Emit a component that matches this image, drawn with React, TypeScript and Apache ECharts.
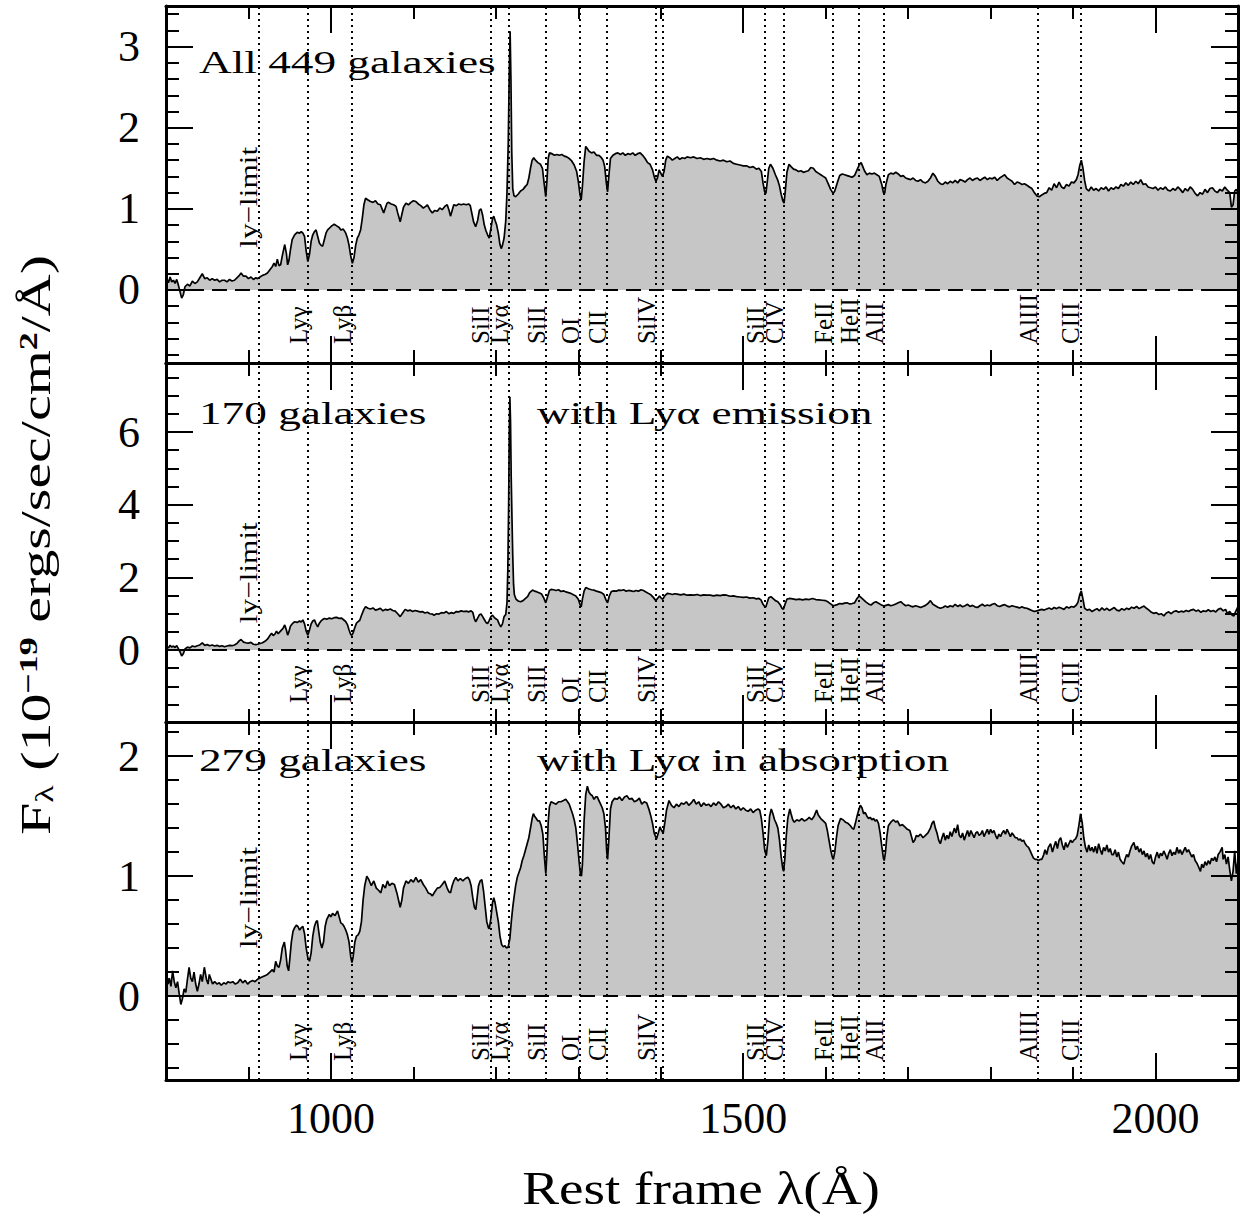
import React, { useEffect, useRef } from 'react';
import * as echarts from 'echarts';

// ---------- axes ----------
const X_MIN = 800;
const X_MAX = 2100;
const xMajorTicks = [1000, 1500, 2000];
const xMinorTicks = [900, 1100, 1200, 1300, 1400, 1600, 1700, 1800, 1900];

const yMins = [-0.9, -1.98, -0.7];
const yMaxs = [3.5, 7.9, 2.285];
const yMajorTop = [0, 1, 2, 3];
const yMinorTop = [-0.8, -0.6, -0.4, -0.2, 0.2, 0.4, 0.6, 0.8, 1.2, 1.4, 1.6, 1.8, 2.2, 2.4, 2.6, 2.8, 3.2, 3.4];
const yMajorMid = [0, 2, 4, 6];
const yMinorMid = [-1.5, -1, -0.5, 0.5, 1, 1.5, 2.5, 3, 3.5, 4.5, 5, 5.5, 6.5, 7, 7.5];
const yMajorBot = [0, 1, 2];
const yMinorBot = [-0.6, -0.4, -0.2, 0.2, 0.4, 0.6, 0.8, 1.2, 1.4, 1.6, 1.8, 2.2];

// ---------- spectral lines ----------
const lineWavelengths = [912, 972.5, 1025.7, 1193.3, 1215.7, 1260.4, 1302.2, 1334.5, 1393.8, 1402.8, 1526.7, 1549, 1608.5, 1640.4, 1670.8, 1857, 1909];
const ionLabels = ['Lyγ', 'Lyβ', 'SiII', 'Lyα', 'SiII', 'OI', 'CII', 'SiIV', 'SiII', 'CIV', 'FeII', 'HeII', 'AlII', 'AlIII', 'CIII'];
const ionLabelWavelengths = [972.5, 1025.7, 1193.3, 1215.7, 1260.4, 1302.2, 1334.5, 1393.8, 1526.7, 1549, 1608.5, 1640.4, 1670.8, 1857, 1909];
const lyLimitWavelength = 912;
const lyLimitLabel = 'ly−limit';
const lyLimitLabelLevels = [0.52, 0.74, 0.40];

// ---------- panel texts ----------
const panelLeftTitles = ['All 449 galaxies', '170 galaxies', '279 galaxies'];
const panelRightTitles = ['', 'with Lyα emission', 'with Lyα in absorption'];

// ---------- spectra [wavelength Å, flux] ----------
const spectrumAll: [number, number][] = [[801,0.14],[803,0.09],[805,0.16],[807,0.10],[809,0.12],[811,0.08],[813,0.13],[815,0.06],[817,-0.02],[819,-0.10],[821,-0.06],[823,0.04],[826,0.07],[829,0.05],[832,0.11],[835,0.08],[838,0.10],[841,0.15],[844,0.20],[847,0.14],[850,0.15],[853,0.12],[856,0.14],[859,0.12],[862,0.13],[865,0.10],[868,0.12],[871,0.12],[874,0.10],[877,0.13],[880,0.11],[883,0.12],[886,0.15],[889,0.18],[891,0.21],[894,0.17],[897,0.17],[900,0.14],[903,0.16],[906,0.13],[909,0.15],[911,0.14],[914,0.16],[917,0.18],[920,0.19],[923,0.21],[926,0.25],[929,0.29],[931,0.33],[933,0.29],[935,0.38],[937,0.30],[939,0.31],[941,0.42],[944,0.56],[946,0.45],[947.5,0.31],[949,0.36],[951,0.50],[953,0.62],[956,0.68],[959,0.71],[962,0.70],[964,0.72],[966,0.70],[968,0.66],[970,0.48],[972,0.35],[974,0.44],[976,0.60],[978,0.68],[980,0.72],[982,0.74],[984,0.66],[986,0.58],[988,0.55],[990,0.54],[992,0.62],[994,0.70],[996,0.74],[999,0.77],[1001,0.79],[1004,0.81],[1007,0.79],[1010,0.77],[1012,0.74],[1015,0.75],[1018,0.70],[1020,0.64],[1022,0.55],[1024,0.42],[1026,0.33],[1028,0.40],[1030,0.55],[1032,0.64],[1034,0.68],[1036,0.74],[1038,0.88],[1040,1.05],[1042,1.13],[1045,1.11],[1048,1.09],[1051,1.08],[1054,1.10],[1057,1.06],[1060,1.05],[1062,1.00],[1064,0.95],[1066,1.01],[1068,1.07],[1070,1.08],[1073,1.06],[1076,1.05],[1079,1.03],[1081,0.95],[1084,0.84],[1086,0.93],[1088,1.02],[1091,1.07],[1094,1.05],[1097,1.08],[1100,1.10],[1103,1.09],[1106,1.06],[1109,1.04],[1112,1.01],[1115,1.03],[1117,1.05],[1120,0.99],[1123,0.95],[1126,0.98],[1129,0.97],[1132,1.01],[1135,0.99],[1138,1.03],[1141,1.05],[1143,0.99],[1145,0.91],[1147,0.98],[1149,1.05],[1152,1.04],[1155,1.06],[1158,1.05],[1161,1.06],[1164,1.05],[1167,1.06],[1169,1.04],[1171,0.94],[1173,0.84],[1175.5,0.78],[1178,0.86],[1180,0.98],[1182,1.00],[1184,0.92],[1186,0.80],[1188,0.73],[1190,0.68],[1192,0.64],[1194,0.76],[1196,0.88],[1197.5,0.91],[1199,0.86],[1201,0.80],[1203,0.70],[1205,0.56],[1206.5,0.51],[1208,0.55],[1210,0.64],[1212,0.85],[1213.5,1.20],[1215,1.80],[1216.3,2.70],[1217.3,3.19],[1218.3,2.60],[1219.3,1.70],[1220.5,1.25],[1222,1.16],[1224,1.15],[1227,1.18],[1230,1.22],[1233,1.24],[1236,1.28],[1238,1.30],[1240,1.38],[1242,1.50],[1244,1.60],[1246,1.63],[1248,1.60],[1251,1.57],[1254,1.55],[1256.5,1.50],[1258.5,1.32],[1260.5,1.15],[1262,1.35],[1263.5,1.62],[1265,1.69],[1268,1.68],[1271,1.66],[1274,1.67],[1277,1.66],[1280,1.67],[1283,1.65],[1286,1.64],[1289,1.62],[1292,1.59],[1295,1.54],[1298,1.46],[1300,1.34],[1302,1.18],[1303.5,1.11],[1305,1.28],[1307,1.58],[1309,1.77],[1311,1.74],[1313,1.71],[1316,1.69],[1319,1.70],[1322,1.66],[1325,1.66],[1328,1.63],[1330,1.60],[1332,1.52],[1334,1.32],[1335.5,1.21],[1337,1.40],[1339,1.62],[1342,1.66],[1345,1.68],[1348,1.69],[1351,1.67],[1354,1.69],[1357,1.66],[1360,1.68],[1363,1.67],[1366,1.69],[1369,1.66],[1372,1.68],[1375,1.69],[1378,1.66],[1381,1.62],[1384,1.57],[1387,1.55],[1390,1.48],[1392,1.40],[1394,1.34],[1396,1.38],[1398,1.48],[1400,1.44],[1402,1.40],[1404,1.46],[1406,1.60],[1408,1.65],[1411,1.63],[1414,1.60],[1417,1.62],[1420,1.64],[1423,1.61],[1426,1.63],[1429,1.62],[1432,1.64],[1436,1.63],[1440,1.64],[1444,1.62],[1448,1.63],[1452,1.61],[1456,1.62],[1460,1.61],[1464,1.62],[1468,1.60],[1472,1.59],[1476,1.60],[1480,1.58],[1484,1.59],[1488,1.56],[1492,1.55],[1496,1.54],[1500,1.53],[1504,1.53],[1508,1.51],[1512,1.52],[1516,1.49],[1519,1.50],[1522,1.46],[1524,1.32],[1526,1.21],[1527.5,1.19],[1529,1.32],[1531,1.50],[1533,1.55],[1536,1.50],[1539,1.42],[1542,1.35],[1544,1.28],[1546,1.18],[1548,1.10],[1549.5,1.07],[1551,1.22],[1553,1.45],[1555.5,1.55],[1558,1.52],[1561,1.49],[1564,1.48],[1567,1.46],[1570,1.47],[1573,1.45],[1576,1.46],[1579,1.47],[1582,1.51],[1585,1.50],[1588,1.46],[1591,1.44],[1594,1.42],[1597,1.40],[1600,1.38],[1603,1.31],[1606,1.24],[1609,1.19],[1611,1.22],[1614,1.32],[1617,1.41],[1620,1.43],[1623,1.42],[1626,1.41],[1629,1.40],[1632,1.39],[1635,1.41],[1638,1.48],[1641,1.55],[1643,1.57],[1645,1.52],[1647,1.47],[1650,1.42],[1653,1.44],[1656,1.43],[1659,1.44],[1662,1.42],[1665,1.40],[1668,1.30],[1670,1.20],[1671.5,1.19],[1673,1.30],[1676,1.42],[1679,1.44],[1682,1.43],[1685,1.45],[1688,1.43],[1691,1.40],[1694,1.41],[1697,1.38],[1700,1.37],[1703,1.36],[1706,1.38],[1709,1.35],[1712,1.34],[1715,1.36],[1718,1.33],[1721,1.32],[1724,1.34],[1727,1.38],[1730,1.44],[1733,1.40],[1736,1.34],[1739,1.31],[1742,1.30],[1745,1.33],[1748,1.31],[1751,1.34],[1754,1.32],[1757,1.35],[1760,1.32],[1763,1.36],[1766,1.35],[1769,1.33],[1772,1.36],[1775,1.38],[1778,1.35],[1781,1.37],[1784,1.38],[1787,1.35],[1790,1.37],[1793,1.39],[1796,1.36],[1799,1.38],[1802,1.37],[1805,1.39],[1808,1.35],[1811,1.38],[1814,1.40],[1817,1.42],[1820,1.38],[1823,1.36],[1826,1.34],[1829,1.30],[1832,1.33],[1835,1.32],[1838,1.30],[1841,1.31],[1844,1.29],[1847,1.27],[1850,1.25],[1853,1.20],[1856,1.16],[1859,1.15],[1862,1.17],[1865,1.19],[1868,1.20],[1871,1.26],[1874,1.23],[1877,1.31],[1880,1.26],[1883,1.33],[1886,1.27],[1889,1.25],[1892,1.30],[1895,1.28],[1898,1.33],[1901,1.32],[1904,1.36],[1906,1.42],[1908,1.53],[1910,1.60],[1912,1.50],[1914,1.35],[1916,1.25],[1919,1.22],[1922,1.27],[1925,1.23],[1928,1.25],[1931,1.22],[1934,1.26],[1937,1.24],[1940,1.27],[1943,1.22],[1946,1.26],[1949,1.24],[1952,1.27],[1955,1.25],[1958,1.30],[1961,1.28],[1964,1.32],[1967,1.29],[1970,1.33],[1973,1.30],[1976,1.34],[1979,1.31],[1982,1.36],[1985,1.30],[1988,1.31],[1991,1.27],[1994,1.26],[1997,1.25],[2000,1.27],[2003,1.23],[2006,1.26],[2009,1.24],[2012,1.27],[2015,1.23],[2018,1.22],[2021,1.25],[2024,1.23],[2027,1.27],[2030,1.24],[2033,1.20],[2036,1.25],[2039,1.22],[2042,1.27],[2045,1.24],[2048,1.19],[2051,1.16],[2054,1.20],[2057,1.18],[2060,1.24],[2063,1.20],[2066,1.25],[2069,1.26],[2072,1.22],[2075,1.20],[2078,1.24],[2081,1.22],[2084,1.27],[2087,1.23],[2090,1.20],[2092,1.02],[2094,1.05],[2096,1.22],[2098,1.24],[2100,1.20]];

const spectrumEmission: [number, number][] = [[801,0.10],[803,0.06],[805,0.13],[807,0.08],[809,0.11],[811,0.07],[813,0.12],[815,0.04],[817,-0.05],[819,-0.16],[821,-0.10],[823,0.03],[826,0.08],[829,0.06],[832,0.11],[835,0.09],[838,0.12],[841,0.14],[844,0.20],[847,0.13],[850,0.15],[853,0.12],[856,0.14],[859,0.11],[862,0.13],[865,0.10],[868,0.12],[871,0.09],[874,0.11],[877,0.13],[880,0.12],[883,0.14],[886,0.18],[889,0.26],[891,0.29],[894,0.22],[897,0.20],[900,0.19],[903,0.21],[906,0.16],[909,0.15],[911,0.16],[914,0.18],[917,0.20],[920,0.24],[923,0.30],[926,0.40],[928,0.46],[930,0.40],[932,0.44],[934,0.52],[936,0.45],[938,0.50],[940,0.55],[942,0.60],[944,0.69],[946,0.55],[947.5,0.41],[949,0.50],[951,0.66],[953,0.72],[956,0.78],[959,0.76],[962,0.80],[964,0.77],[966,0.83],[968,0.72],[970,0.52],[972,0.41],[974,0.55],[976,0.72],[978,0.80],[980,0.83],[982,0.72],[984,0.64],[986,0.74],[988,0.80],[990,0.84],[992,0.87],[995,0.85],[998,0.88],[1001,0.86],[1004,0.89],[1007,0.90],[1010,0.87],[1013,0.88],[1016,0.82],[1018,0.78],[1020,0.70],[1022,0.55],[1024,0.43],[1025.5,0.41],[1027,0.48],[1029,0.62],[1031,0.74],[1033,0.78],[1035,0.82],[1037,0.95],[1040,1.12],[1042,1.19],[1045,1.15],[1048,1.13],[1051,1.16],[1054,1.10],[1057,1.12],[1060,1.15],[1063,1.08],[1066,1.12],[1069,1.10],[1072,1.13],[1075,1.09],[1078,1.07],[1081,1.00],[1084,0.92],[1087,1.02],[1090,1.12],[1093,1.08],[1096,1.10],[1099,1.06],[1102,1.09],[1105,1.07],[1108,1.05],[1111,1.06],[1114,1.02],[1117,1.04],[1120,1.00],[1123,0.99],[1125,0.96],[1128,1.00],[1131,0.99],[1134,1.03],[1137,1.02],[1140,1.06],[1143,1.00],[1146,1.03],[1149,1.01],[1152,1.06],[1155,1.05],[1158,1.08],[1161,1.06],[1164,1.07],[1167,1.05],[1170,1.08],[1172,1.04],[1174,0.86],[1175.5,0.78],[1177,0.84],[1180,0.97],[1182,0.99],[1184,0.92],[1186,0.84],[1188,0.76],[1190,0.73],[1192,0.82],[1194,0.92],[1196,0.96],[1198,0.90],[1200,0.86],[1202,0.83],[1204,0.72],[1206,0.64],[1208,0.72],[1210,0.92],[1212,0.98],[1213.5,1.30],[1214.5,2.20],[1215.5,4.00],[1216.3,6.00],[1217,6.97],[1217.8,6.30],[1218.6,4.80],[1219.5,3.70],[1220.5,2.60],[1221.5,1.80],[1222.5,1.52],[1224.5,1.40],[1227,1.35],[1230,1.33],[1233,1.36],[1236,1.42],[1238.5,1.47],[1241,1.58],[1244.5,1.65],[1247,1.62],[1250,1.60],[1253,1.57],[1255.5,1.54],[1258,1.44],[1260.5,1.30],[1262.5,1.45],[1265,1.64],[1267,1.67],[1270,1.66],[1273,1.64],[1276,1.66],[1279,1.61],[1282,1.63],[1285,1.60],[1288,1.58],[1291,1.56],[1294,1.52],[1297,1.49],[1300,1.40],[1302,1.26],[1303.5,1.19],[1305,1.40],[1307,1.62],[1309,1.72],[1311,1.70],[1313,1.68],[1316,1.66],[1319,1.65],[1322,1.62],[1325,1.60],[1328,1.58],[1331,1.53],[1333.5,1.38],[1335.5,1.30],[1337.5,1.48],[1340,1.61],[1343,1.63],[1346,1.62],[1349,1.65],[1352,1.64],[1355,1.66],[1358,1.62],[1361,1.64],[1364,1.63],[1367,1.61],[1370,1.64],[1373,1.62],[1376,1.66],[1379,1.64],[1382,1.60],[1385,1.56],[1388,1.52],[1391,1.45],[1394,1.36],[1396,1.42],[1398.5,1.49],[1400.5,1.43],[1402.5,1.40],[1405,1.50],[1408,1.56],[1411,1.55],[1414,1.53],[1417,1.55],[1420,1.54],[1424,1.52],[1428,1.54],[1432,1.51],[1436,1.52],[1440,1.51],[1444,1.53],[1448,1.50],[1452,1.52],[1456,1.51],[1460,1.51],[1464,1.49],[1468,1.51],[1472,1.50],[1476,1.52],[1480,1.51],[1484,1.48],[1488,1.49],[1492,1.47],[1496,1.46],[1500,1.45],[1504,1.46],[1508,1.43],[1512,1.44],[1516,1.41],[1519,1.42],[1521.5,1.38],[1524,1.26],[1526,1.20],[1527.5,1.19],[1529,1.30],[1531,1.44],[1533.5,1.47],[1536,1.42],[1539,1.36],[1542,1.33],[1545,1.24],[1547,1.15],[1548.7,1.12],[1550.5,1.25],[1553,1.40],[1556,1.42],[1560,1.41],[1564,1.39],[1568,1.40],[1572,1.38],[1576,1.40],[1580,1.39],[1584,1.42],[1588,1.39],[1592,1.38],[1596,1.37],[1600,1.36],[1603,1.32],[1606,1.27],[1609,1.22],[1611,1.23],[1614,1.25],[1617,1.28],[1620,1.27],[1623,1.29],[1626,1.30],[1629,1.27],[1632,1.28],[1635,1.30],[1638,1.42],[1640.5,1.49],[1643,1.44],[1646,1.38],[1649,1.32],[1652,1.27],[1655,1.24],[1658,1.30],[1661,1.33],[1664,1.29],[1667,1.25],[1670.5,1.21],[1673,1.23],[1676,1.25],[1679,1.22],[1682,1.24],[1685,1.27],[1688,1.30],[1691,1.33],[1694,1.27],[1697,1.22],[1700,1.24],[1703,1.21],[1706,1.19],[1709,1.22],[1712,1.20],[1715,1.17],[1718,1.20],[1721,1.23],[1724,1.28],[1727,1.36],[1730,1.26],[1733,1.22],[1736,1.18],[1739,1.15],[1742,1.17],[1745,1.21],[1748,1.18],[1751,1.22],[1754,1.19],[1757,1.26],[1760,1.20],[1763,1.24],[1766,1.19],[1769,1.22],[1772,1.26],[1775,1.20],[1778,1.23],[1781,1.19],[1784,1.17],[1787,1.22],[1790,1.26],[1793,1.21],[1796,1.24],[1799,1.22],[1802,1.26],[1805,1.28],[1808,1.22],[1811,1.20],[1814,1.23],[1817,1.25],[1820,1.21],[1823,1.19],[1826,1.22],[1829,1.20],[1832,1.18],[1835,1.16],[1838,1.19],[1841,1.16],[1844,1.15],[1847,1.12],[1850,1.09],[1853,1.06],[1856,1.08],[1859,1.10],[1862,1.12],[1865,1.10],[1868,1.13],[1871,1.16],[1874,1.12],[1877,1.17],[1880,1.14],[1883,1.18],[1886,1.15],[1889,1.12],[1892,1.19],[1895,1.16],[1898,1.20],[1901,1.18],[1904,1.24],[1906,1.32],[1908,1.52],[1910,1.63],[1912,1.40],[1914,1.15],[1917,1.10],[1920,1.12],[1923,1.06],[1926,1.10],[1929,1.14],[1932,1.08],[1935,1.16],[1938,1.10],[1941,1.15],[1944,1.09],[1947,1.13],[1950,1.17],[1953,1.10],[1956,1.08],[1959,1.14],[1962,1.10],[1965,1.15],[1968,1.12],[1971,1.18],[1974,1.15],[1977,1.20],[1980,1.14],[1983,1.18],[1986,1.21],[1989,1.15],[1992,1.10],[1995,1.04],[1998,1.01],[2001,1.03],[2004,0.98],[2007,1.00],[2010,0.94],[2013,1.02],[2016,1.05],[2019,1.00],[2022,1.06],[2025,1.08],[2028,1.04],[2031,1.07],[2034,1.05],[2037,1.09],[2040,1.06],[2043,1.10],[2046,1.12],[2049,1.07],[2052,1.10],[2055,1.04],[2058,1.08],[2061,1.06],[2064,1.11],[2067,1.06],[2070,1.09],[2073,1.05],[2076,1.12],[2079,1.15],[2082,1.08],[2085,1.12],[2087,1.01],[2090,1.06],[2093,0.96],[2095,0.94],[2097,1.05],[2099,1.15],[2100,1.19]];

const spectrumAbsorption: [number, number][] = [[801,0.18],[802.5,0.10],[804,0.15],[806,0.08],[808,0.21],[810,0.12],[812,0.07],[814,0.12],[816,0.02],[818,-0.07],[820,-0.02],[822,0.06],[824,0.03],[826,0.14],[828,0.24],[830,0.15],[832,0.12],[834,0.20],[836,0.10],[838,0.04],[840,0.10],[842,0.18],[844,0.12],[846.5,0.24],[849,0.14],[851,0.10],[852.5,0.18],[854.5,0.14],[856.5,0.10],[859,0.12],[862,0.10],[864.6,0.11],[867,0.09],[870,0.11],[873,0.10],[875,0.12],[878,0.11],[881,0.12],[884,0.10],[887,0.11],[890,0.14],[893,0.11],[896,0.13],[899,0.10],[902,0.12],[905,0.13],[908,0.12],[911,0.14],[914,0.15],[917,0.16],[920,0.17],[923,0.18],[926,0.20],[929,0.22],[931,0.20],[933,0.29],[935,0.25],[937,0.24],[939,0.30],[941,0.40],[943.5,0.45],[945,0.38],[947,0.25],[948.7,0.21],[950,0.30],[952,0.45],[954,0.54],[956,0.57],[958,0.59],[960,0.58],[962,0.55],[964,0.57],[966,0.58],[968,0.52],[970,0.40],[972,0.32],[974,0.29],[976,0.36],[978,0.50],[980,0.58],[982,0.62],[983.5,0.63],[985,0.55],[987,0.45],[989,0.40],[991,0.45],[993,0.58],[995,0.64],[998,0.68],[1000,0.66],[1002,0.69],[1005,0.67],[1008,0.71],[1010,0.66],[1012,0.61],[1014,0.60],[1016,0.58],[1018,0.55],[1020,0.51],[1022,0.45],[1024,0.33],[1025.5,0.28],[1027,0.33],[1029,0.45],[1031,0.50],[1033,0.51],[1035,0.54],[1037,0.62],[1039,0.80],[1041,0.92],[1043.5,1.00],[1046,0.97],[1049,0.92],[1052,0.96],[1055,0.90],[1058,0.88],[1060.5,0.86],[1063,0.93],[1066,0.90],[1068.5,0.96],[1071,0.92],[1074,0.94],[1077,0.93],[1080,0.86],[1082,0.80],[1084,0.74],[1086,0.80],[1088,0.90],[1091,0.96],[1094,0.94],[1097,0.97],[1100,0.95],[1103,0.99],[1106,0.95],[1109,0.97],[1112,0.93],[1115,0.90],[1118,0.86],[1121,0.85],[1123,0.835],[1126,0.87],[1129,0.90],[1132,0.905],[1135,0.93],[1138,0.96],[1141,0.90],[1143,0.87],[1145,0.86],[1147,0.92],[1149,0.96],[1151.5,0.99],[1154,0.96],[1157,0.98],[1160,0.96],[1163,0.98],[1166,0.99],[1168,0.97],[1170,0.92],[1172,0.82],[1174,0.74],[1175.7,0.72],[1177,0.80],[1179,0.92],[1181,0.96],[1183,0.97],[1185,0.88],[1187,0.75],[1189,0.62],[1191,0.57],[1192,0.56],[1194,0.65],[1196,0.78],[1197.5,0.82],[1199,0.78],[1201,0.70],[1203,0.62],[1205,0.50],[1207,0.43],[1209,0.41],[1211,0.42],[1213,0.40],[1215,0.41],[1217,0.48],[1219,0.64],[1220.5,0.74],[1222,0.82],[1224,0.92],[1226,0.99],[1228,1.03],[1230,1.07],[1232,1.13],[1234,1.17],[1236,1.22],[1238,1.27],[1240,1.32],[1242,1.40],[1244,1.48],[1245.5,1.52],[1247,1.50],[1249,1.48],[1251,1.46],[1253,1.46],[1255,1.42],[1257,1.35],[1259,1.15],[1260.6,1.02],[1262,1.20],[1263.5,1.45],[1265,1.58],[1267,1.62],[1270,1.61],[1273,1.60],[1276,1.62],[1279,1.62],[1282,1.63],[1284.8,1.64],[1287,1.62],[1289,1.60],[1291,1.56],[1293,1.52],[1295,1.47],[1297,1.40],[1299,1.27],[1301,1.12],[1302.5,1.02],[1303.8,1.00],[1305,1.10],[1307,1.46],[1309,1.68],[1311,1.75],[1313,1.70],[1315,1.68],[1317,1.67],[1319,1.64],[1321,1.66],[1323,1.66],[1325,1.63],[1327,1.60],[1329,1.57],[1331,1.52],[1333,1.40],[1334.5,1.20],[1335.5,1.14],[1337,1.30],[1339,1.56],[1341,1.62],[1344,1.65],[1347,1.64],[1350,1.66],[1353,1.63],[1356,1.66],[1359,1.67],[1362,1.64],[1365,1.65],[1368,1.62],[1371,1.63],[1374,1.65],[1377,1.60],[1380,1.62],[1383,1.61],[1386,1.55],[1388,1.50],[1390,1.44],[1392,1.36],[1394.8,1.31],[1397,1.36],[1399,1.41],[1401,1.38],[1403,1.36],[1405,1.45],[1407,1.55],[1410,1.63],[1413,1.59],[1416,1.57],[1419,1.60],[1422,1.58],[1425,1.61],[1428,1.60],[1431,1.62],[1434,1.59],[1437,1.61],[1440,1.64],[1443,1.60],[1446,1.62],[1449,1.58],[1452,1.61],[1455,1.59],[1458,1.60],[1461,1.58],[1464,1.61],[1467,1.59],[1470,1.62],[1473,1.60],[1476,1.57],[1479,1.58],[1482,1.60],[1485,1.57],[1488,1.59],[1491,1.56],[1494,1.58],[1497,1.55],[1500,1.57],[1503,1.55],[1506,1.54],[1509,1.56],[1512,1.53],[1515,1.55],[1518,1.56],[1520,1.55],[1522,1.48],[1524,1.36],[1526,1.22],[1528,1.17],[1530,1.30],[1532,1.50],[1534,1.56],[1536,1.52],[1538,1.47],[1540,1.44],[1542,1.40],[1544,1.30],[1546,1.16],[1548,1.06],[1549,1.04],[1550.5,1.15],[1552,1.32],[1554,1.48],[1556.5,1.56],[1558,1.52],[1560,1.47],[1562,1.45],[1565,1.47],[1568,1.46],[1571,1.48],[1574,1.46],[1577,1.47],[1580,1.49],[1583,1.47],[1586,1.50],[1589,1.55],[1591,1.51],[1594,1.48],[1597,1.46],[1600,1.44],[1602,1.38],[1604,1.30],[1606,1.22],[1608,1.16],[1609.3,1.14],[1611,1.20],[1613,1.32],[1615,1.42],[1618,1.48],[1621,1.47],[1624,1.45],[1627,1.44],[1630,1.42],[1632,1.40],[1634,1.39],[1636,1.44],[1638,1.50],[1640,1.55],[1642,1.59],[1644,1.57],[1646,1.52],[1648,1.53],[1650,1.50],[1652,1.48],[1654,1.49],[1656,1.47],[1658,1.48],[1660,1.46],[1662,1.47],[1664,1.44],[1666,1.36],[1668,1.25],[1670,1.15],[1671,1.13],[1672.5,1.20],[1674,1.32],[1676,1.42],[1679,1.45],[1682,1.47],[1685,1.45],[1687,1.46],[1690,1.42],[1693,1.43],[1696,1.41],[1699,1.39],[1702,1.38],[1704,1.33],[1706,1.28],[1708,1.30],[1710,1.34],[1712,1.33],[1715,1.35],[1718,1.32],[1721,1.34],[1724,1.36],[1727,1.40],[1729,1.44],[1731,1.46],[1733,1.40],[1735,1.36],[1737,1.30],[1739,1.27],[1741,1.32],[1743,1.36],[1745,1.30],[1747,1.34],[1749,1.31],[1751,1.37],[1753,1.33],[1756,1.40],[1758,1.36],[1760,1.43],[1762,1.34],[1764,1.32],[1766,1.36],[1768,1.30],[1770,1.34],[1772,1.38],[1774,1.33],[1776,1.38],[1778,1.35],[1780,1.32],[1782,1.36],[1784,1.37],[1786,1.34],[1788,1.35],[1790,1.38],[1792,1.33],[1794,1.36],[1796,1.39],[1798,1.35],[1800,1.39],[1802,1.36],[1804,1.38],[1806,1.34],[1808,1.31],[1810,1.35],[1812,1.33],[1814,1.36],[1816,1.38],[1818,1.35],[1820,1.39],[1822,1.36],[1824,1.33],[1826,1.36],[1828,1.34],[1830,1.32],[1832,1.32],[1834,1.30],[1836,1.31],[1838,1.29],[1840,1.30],[1842,1.27],[1844,1.25],[1846,1.24],[1848,1.21],[1850,1.18],[1852,1.15],[1854,1.14],[1856,1.14],[1858,1.13],[1860,1.14],[1862,1.14],[1864,1.17],[1866,1.22],[1868,1.18],[1870,1.24],[1872.7,1.27],[1875,1.20],[1877,1.25],[1879,1.29],[1881,1.23],[1883,1.30],[1885,1.32],[1887,1.26],[1889,1.22],[1891,1.28],[1893,1.24],[1895,1.27],[1897,1.30],[1899,1.28],[1901,1.30],[1903,1.31],[1905,1.34],[1907,1.42],[1909,1.52],[1911,1.45],[1913,1.32],[1915,1.24],[1917,1.20],[1919,1.26],[1921,1.21],[1923,1.24],[1925,1.20],[1927,1.25],[1929,1.19],[1931,1.27],[1933,1.22],[1935,1.18],[1937,1.24],[1939,1.21],[1941,1.26],[1943,1.20],[1945,1.23],[1947,1.18],[1949,1.18],[1951,1.22],[1953,1.16],[1955,1.20],[1957,1.14],[1959,1.12],[1961.6,1.10],[1963,1.14],[1965,1.18],[1967,1.16],[1969,1.21],[1971,1.25],[1973.7,1.28],[1976,1.22],[1978,1.25],[1980,1.20],[1982,1.23],[1984,1.18],[1986,1.21],[1988,1.16],[1990,1.19],[1992,1.14],[1994,1.18],[1996,1.12],[1998,1.10],[2000,1.16],[2002,1.20],[2004,1.15],[2006,1.19],[2008,1.17],[2010,1.21],[2012,1.18],[2014,1.14],[2016,1.19],[2018,1.22],[2020,1.17],[2022,1.20],[2024,1.18],[2026,1.24],[2028,1.19],[2030,1.22],[2032,1.18],[2034,1.21],[2036,1.24],[2038,1.20],[2040,1.22],[2042,1.19],[2044,1.16],[2046,1.18],[2048,1.13],[2050,1.11],[2052,1.08],[2054.5,1.04],[2056,1.10],[2058,1.07],[2060,1.12],[2062,1.09],[2064,1.13],[2066,1.10],[2068,1.15],[2070,1.13],[2072,1.16],[2074,1.12],[2076,1.18],[2078,1.20],[2080.8,1.24],[2082,1.14],[2084,1.18],[2086,1.10],[2088,1.16],[2090,1.05],[2092,0.96],[2094,1.04],[2096,1.21],[2098,1.02],[2100,1.13]];

const spectra = [spectrumAll, spectrumEmission, spectrumAbsorption];
const yMajors = [yMajorTop, yMajorMid, yMajorBot];
const yMinors = [yMinorTop, yMinorMid, yMinorBot];

// ---------- layout ----------
const W = 1245;
const H = 1216;
const gridLeft = 166;
const gridRight = 7;
const gridTops = [6, 363, 722];
const gridHeights = [357, 359, 358];
const SERIF = 'Liberation Serif';

export default function App() {
  const ref = useRef<HTMLDivElement>(null);

  useEffect(() => {
    if (!ref.current) return;
    const chart = echarts.init(ref.current, null, { renderer: 'svg' });

    const grids = gridTops.map((t, i) => ({
      left: gridLeft, right: gridRight, top: t, height: gridHeights[i], show: false, containLabel: false,
    }));

    const xAxes: any[] = [];
    const yAxes: any[] = [];
    for (let p = 0; p < 3; p++) {
      const xDefs: [string, boolean][] = [['bottom', true], ['bottom', false], ['top', true], ['top', false]];
      xDefs.forEach(([position, major]) => {
        xAxes.push({
          type: 'value', gridIndex: p, position, offset: 0, min: X_MIN, max: X_MAX, z: 10,
          axisLine: { show: major, onZero: false, lineStyle: { color: '#000', width: 3 } },
          axisTick: { show: true, inside: true, length: major ? 27 : 13, customValues: major ? xMajorTicks : xMinorTicks, lineStyle: { color: '#000', width: 2 } },
          axisLabel: {
            show: major && position === 'bottom' && p === 2, customValues: xMajorTicks, margin: 16,
            formatter: (v: number) => String(v), fontFamily: SERIF, fontSize: 44, color: '#000',
          },
          splitLine: { show: false },
        });
      });
      const yDefs: [string, boolean][] = [['left', true], ['left', false], ['right', true], ['right', false]];
      yDefs.forEach(([position, major]) => {
        yAxes.push({
          type: 'value', gridIndex: p, position, offset: 0, min: yMins[p], max: yMaxs[p], z: 10,
          axisLine: { show: major, onZero: false, lineStyle: { color: '#000', width: 3 } },
          axisTick: { show: true, inside: true, length: major ? 27 : 13, customValues: major ? yMajors[p] : yMinors[p], lineStyle: { color: '#000', width: 2 } },
          axisLabel: {
            show: major && position === 'left', customValues: yMajors[p], margin: 26,
            formatter: (v: number) => String(v), fontFamily: SERIF, fontSize: 44, color: '#000',
          },
          splitLine: { show: false },
        });
      });
    }

    const series = spectra.map((data, p) => ({
      type: 'line',
      xAxisIndex: 4 * p,
      yAxisIndex: 4 * p,
      data,
      symbol: 'none',
      showSymbol: false,
      silent: true,
      z: 2,
      lineStyle: { color: '#000', width: 1.7 },
      areaStyle: { color: '#c6c6c6', opacity: 1 },
      markLine: {
        silent: true,
        symbol: 'none',
        animation: false,
        label: { show: false },
        z: 5,
        data: [
          { yAxis: 0, lineStyle: { color: '#000', width: 2, type: [15, 8] } },
          ...lineWavelengths.map((w) => ({ xAxis: w, lineStyle: { color: '#000', width: 2, type: [2, 4] } })),
        ],
      },
    }));

    chart.setOption({
      animation: false,
      backgroundColor: '#fff',
      grid: grids,
      xAxis: xAxes,
      yAxis: yAxes,
      series,
    });

    const graphics: any[] = [];
    const ionFont = `25px "${SERIF}"`;
    for (let p = 0; p < 3; p++) {
      const bottomPx = chart.convertToPixel({ yAxisIndex: 4 * p }, yMins[p]) as number;
      ionLabelWavelengths.forEach((w, i) => {
        const xPx = chart.convertToPixel({ xAxisIndex: 4 * p }, w) as number;
        graphics.push({
          type: 'text', x: xPx + 3, y: bottomPx - 19, rotation: Math.PI / 2, z: 20,
          style: { text: ionLabels[i], font: ionFont, fill: '#000', textAlign: 'left', verticalAlign: 'bottom' },
        });
      });
      const lxPx = chart.convertToPixel({ xAxisIndex: 4 * p }, lyLimitWavelength) as number;
      const lyPx = chart.convertToPixel({ yAxisIndex: 4 * p }, lyLimitLabelLevels[p]) as number;
      graphics.push({
        type: 'text', x: lxPx + 3, y: lyPx, rotation: Math.PI / 2, scaleX: 1.25, z: 20,
        style: { text: lyLimitLabel, font: ionFont, fill: '#000', textAlign: 'left', verticalAlign: 'bottom' },
      });
    }

    const titleY = [62, 413, 760];
    const titleFont = `31px "${SERIF}"`;
    panelLeftTitles.forEach((t, p) => {
      graphics.push({
        type: 'text', x: 199, y: titleY[p], scaleX: 1.46, z: 20,
        style: { text: t, font: titleFont, fill: '#000', textAlign: 'left', verticalAlign: 'middle' },
      });
      if (panelRightTitles[p]) {
        graphics.push({
          type: 'text', x: 537, y: titleY[p], scaleX: 1.46, z: 20,
          style: { text: panelRightTitles[p], font: titleFont, fill: '#000', textAlign: 'left', verticalAlign: 'middle' },
        });
      }
    });

    // x-axis title
    graphics.push({
      type: 'text', x: 701, y: 1189, scaleX: 1.2, z: 20,
      style: { text: 'Rest frame λ(Å)', font: `46px "${SERIF}"`, fill: '#000', textAlign: 'center', verticalAlign: 'middle' },
    });
    // y-axis title
    graphics.push({
      type: 'text', x: 36, y: 545, rotation: Math.PI / 2, scaleX: 1.38, z: 20,
      style: {
        text: '{m|F}{s|λ}{m| (10}{p|−19}{m| ergs/sec/cm}{p|2}{m|/Å)}',
        textAlign: 'center', verticalAlign: 'middle', fill: '#000',
        rich: {
          m: { fontFamily: SERIF, fontSize: 42, fill: '#000', verticalAlign: 'middle' },
          s: { fontFamily: SERIF, fontSize: 26, fill: '#000', verticalAlign: 'bottom' },
          p: { fontFamily: SERIF, fontSize: 26, fill: '#000', verticalAlign: 'top', fontWeight: 'bold' },
        },
      },
    });

    chart.setOption({ graphic: graphics });

    return () => chart.dispose();
  }, []);

  return <div ref={ref} style={{ position: 'absolute', left: 0, top: 0, width: W, height: H }} />;
}
